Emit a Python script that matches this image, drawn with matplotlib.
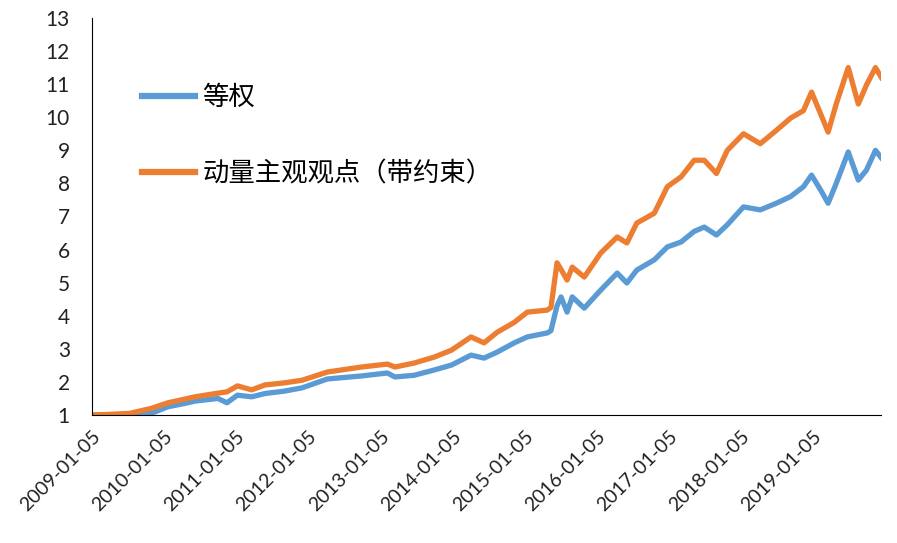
import matplotlib
matplotlib.use("Agg")
import matplotlib.pyplot as plt
import numpy as np
import pandas as pd

plt.rcParams['font.family'] = ['Noto Sans CJK SC', 'DejaVu Sans']

# values
dates = ["2009-01-05", "2009-04-05", "2009-07-15", "2009-11-01", "2010-01-25",
         "2010-04-20", "2010-06-10", "2010-10-05", "2010-11-20", "2011-01-12",
         "2011-03-25", "2011-06-01", "2011-09-05", "2011-12-05", "2012-04-12",
         "2012-10-01", "2013-02-10", "2013-03-20", "2013-06-25", "2013-10-05",
         "2014-01-01", "2014-04-10", "2014-06-15", "2014-08-20", "2014-11-15",
         "2015-01-20", "2015-05-01", "2015-05-20", "2015-06-20", "2015-07-10",
         "2015-08-10", "2015-09-05", "2015-11-05", "2016-01-28", "2016-04-20",
         "2016-06-08", "2016-07-28", "2016-10-25", "2016-12-30", "2017-03-10",
         "2017-05-15", "2017-07-05", "2017-09-05", "2017-10-30", "2018-01-20",
         "2018-04-15", "2018-07-05", "2018-09-15", "2018-11-20", "2018-12-31",
         "2019-02-15", "2019-03-25", "2019-05-05", "2019-07-05", "2019-08-25",
         "2019-10-05", "2019-11-20", "2019-12-20"]

equal_weight = [1.00, 1.00, 1.00, 1.05, 1.25, 1.35, 1.42, 1.50, 1.37, 1.60,
                1.55, 1.65, 1.72, 1.82, 2.09, 2.18, 2.27, 2.15, 2.20, 2.36,
                2.51, 2.81, 2.72, 2.90, 3.18, 3.36, 3.48, 3.55, 4.30, 4.57,
                4.11, 4.57, 4.23, 4.78, 5.29, 4.99, 5.38, 5.69, 6.08, 6.23,
                6.55, 6.68, 6.44, 6.75, 7.29, 7.20, 7.40, 7.60, 7.90, 8.25,
                7.80, 7.40, 8.00, 8.95, 8.10, 8.40, 9.00, 8.77]

momentum = [1.00, 1.02, 1.05, 1.20, 1.37, 1.48, 1.55, 1.66, 1.70, 1.88,
            1.76, 1.91, 1.97, 2.05, 2.30, 2.45, 2.54, 2.45, 2.57, 2.75,
            2.96, 3.36, 3.18, 3.50, 3.80, 4.11, 4.17, 4.25, 5.60, 5.40,
            5.08, 5.47, 5.17, 5.90, 6.38, 6.20, 6.80, 7.10, 7.90, 8.20,
            8.70, 8.70, 8.30, 9.00, 9.50, 9.20, 9.60, 9.97, 10.20, 10.76,
            10.10, 9.55, 10.40, 11.50, 10.40, 10.97, 11.50, 11.20]

tick_dates = ["%d-01-05" % y for y in range(2009, 2020)]

x = pd.to_datetime(dates)

fig = plt.figure(figsize=(8.97, 5.43), dpi=100)
ax = fig.add_axes([0.1026, 0.2357, 0.880, 0.7312])

ax.plot(x, equal_weight, color='#5B9BD5', lw=3.8, label='等权', solid_joinstyle='round')
ax.plot(x, momentum, color='#ED7D31', lw=3.8, label='动量主观观点（带约束）', solid_joinstyle='round')

ax.set_ylim(1, 13)
ax.set_yticks(range(1, 14))
ax.set_xlim(x[0], x[-1])
ax.set_xticks(pd.to_datetime(tick_dates))
ax.set_xticklabels(tick_dates, rotation=45, ha='right', rotation_mode='anchor')
ax.tick_params(axis='both', length=0)
ax.tick_params(axis='y', pad=16, labelsize=15)
ax.tick_params(axis='x', pad=9, labelsize=14)
for lab in ax.get_xticklabels() + ax.get_yticklabels():
    lab.set_fontfamily(['Lato', 'DejaVu Sans'])
    lab.set_color('#222222')

for s in ['top', 'right']:
    ax.spines[s].set_visible(False)
ax.spines['left'].set_color('black')
ax.spines['bottom'].set_color('black')

leg = fig.legend(loc='upper left', bbox_to_anchor=(0.158, 0.845), frameon=False,
                 fontsize=19, handlelength=2.0, labelspacing=1.85,
                 handletextpad=0.3, borderpad=0, borderaxespad=0)
for line in leg.get_lines():
    line.set_linewidth(4.5)

fig.savefig('out.png', dpi=100)
